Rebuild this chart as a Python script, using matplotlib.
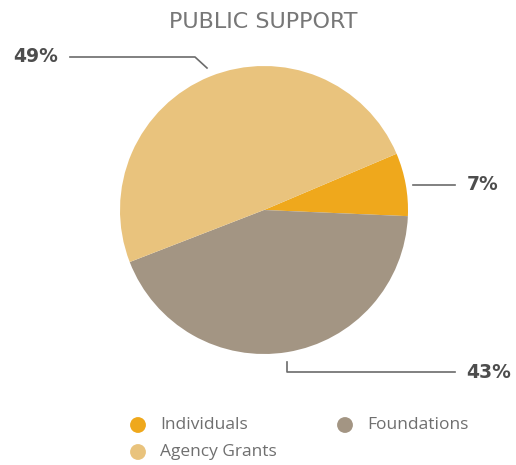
import matplotlib
matplotlib.use("Agg")
import matplotlib.pyplot as plt

categories = ["Individuals", "Foundations", "Agency Grants"]
values = [7, 43, 49]
labels = ["7%", "43%", "49%"]
colors = ["#EFA81C", "#A39583", "#E9C37D"]
title = "PUBLIC SUPPORT"

plt.rcParams['font.family'] = ['Open Sans', 'DejaVu Sans']

fig = plt.figure(figsize=(5.16, 4.65), dpi=100)
ax = fig.add_axes([0, 0, 1, 1])
ax.pie(values, colors=colors, startangle=23, counterclock=False,
       center=(264, 255), radius=144, wedgeprops=dict(linewidth=0))
ax.set_xlim(0, 516)
ax.set_ylim(0, 465)
ax.set_aspect('equal')
ax.axis('off')

ax.text(263, 443, title, ha='center', va='center', fontsize=16,
        color='#777777', family=['DejaVu Sans'], fontweight='normal')

lc = '#6b6b6b'
tc = '#4d4d4d'
lab_kw = dict(ha='center', va='center', fontsize=13.5, fontweight='bold',
              color=tc, family=['DejaVu Sans'])
# 49%
ax.plot([70, 195, 207], [408, 408, 397], color=lc, lw=1.2)
ax.text(36, 408, labels[2], **lab_kw)
# 7%
ax.plot([413, 455], [280, 280], color=lc, lw=1.2)
ax.text(483, 280, labels[0], **lab_kw)
# 43%
ax.plot([287, 287, 455], [103, 93, 93], color=lc, lw=1.2)
ax.text(489, 93, labels[1], **lab_kw)

# legend
leg_pos = {"Individuals": (138, 40), "Agency Grants": (138, 13), "Foundations": (345, 40)}
for cat, col in zip(categories, colors):
    x, y = leg_pos[cat]
    ax.scatter([x], [y], s=130, color=col, edgecolors='none', clip_on=False)
    ax.text(x + 22, y, cat, ha='left', va='center', fontsize=12.5, color='#6f6f6f')

fig.savefig("out.png", dpi=100)
